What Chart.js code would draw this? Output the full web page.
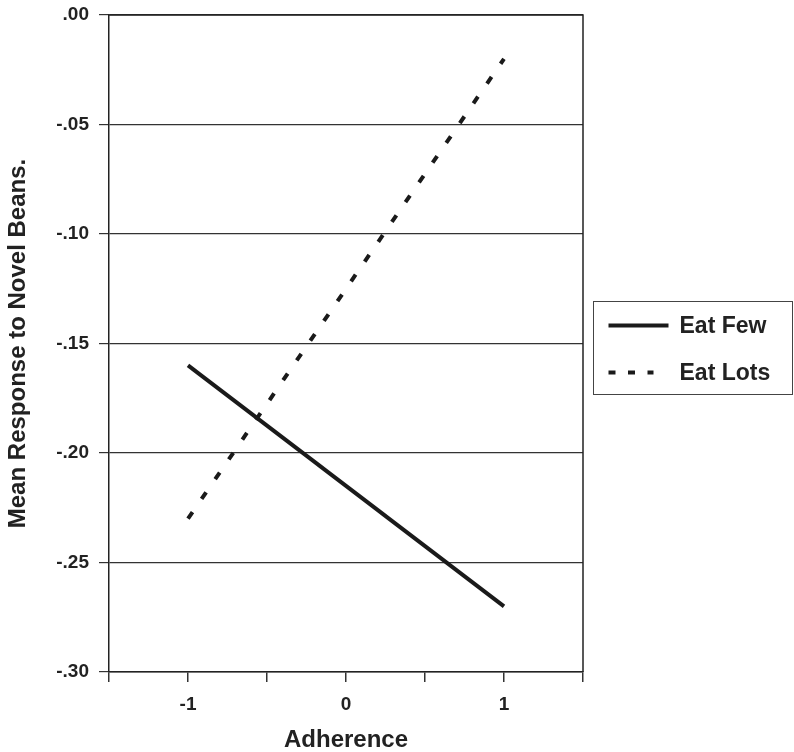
<!DOCTYPE html>
<html><head><meta charset="utf-8">
<script src="https://cdn.jsdelivr.net/npm/chart.js@4"></script>
<style>html,body{margin:0;padding:0;background:#fff}#wrap{width:794px;height:752px}</style>
</head><body><div id="wrap"><canvas id="c" width="794" height="752"></canvas></div>
<script>
const xValues = [-1, 1];
const eatFew = [-0.16, -0.27];
const eatLots = [-0.23, -0.02];
const seriesNames = ['Eat Few', 'Eat Lots'];
const xTickLabels = ['-1', '0', '1'];
const yTickLabels = ['.00', '-.05', '-.10', '-.15', '-.20', '-.25', '-.30'];

const FONT = "'Liberation Sans', Arial, sans-serif";

const frame = {
  id: 'frame',
  afterDraw(chart) {
    const {ctx, chartArea: a} = chart;
    ctx.save();
    ctx.strokeStyle = '#222';
    ctx.lineWidth = 1.5;
    ctx.beginPath();
    ctx.moveTo(a.left, a.top); ctx.lineTo(a.right, a.top); ctx.lineTo(a.right, a.bottom);
    ctx.stroke();
    // legend box
    const bx = 593.5, by = 301.5, bw = 199, bh = 93;
    ctx.strokeStyle = '#444'; ctx.lineWidth = 1;
    ctx.strokeRect(bx, by, bw, bh);
    const ds = chart.data.datasets;
    const rows = [by + 24, by + 71];
    ctx.font = "bold 23px " + FONT;
    ctx.fillStyle = '#222';
    ctx.textBaseline = 'middle';
    ds.forEach((d, i) => {
      ctx.strokeStyle = d.borderColor; ctx.lineWidth = 4;
      ctx.setLineDash(i === 1 ? [7, 12.5] : []);
      ctx.beginPath(); ctx.moveTo(bx + 15, rows[i]); ctx.lineTo(bx + (i === 1 ? 60 : 75), rows[i]); ctx.stroke();
      ctx.setLineDash([]);
      ctx.fillText(d.label, bx + 86, rows[i] + 1);
    });
    ctx.restore();
  }
};

new Chart(document.getElementById('c'), {
  type: 'scatter',
  data: {
    datasets: [
      { label: seriesNames[0], data: xValues.map((x, i) => ({x, y: eatFew[i]})), showLine: true,
        borderColor: '#1a1a1a', borderWidth: 4, pointRadius: 0, borderCapStyle: 'butt' },
      { label: seriesNames[1], data: xValues.map((x, i) => ({x, y: eatLots[i]})), showLine: true,
        borderColor: '#1a1a1a', borderWidth: 4, pointRadius: 0, borderDash: [8, 16], borderCapStyle: 'butt' }
    ]
  },
  options: {
    responsive: false, animation: false, devicePixelRatio: 1,
    layout: { padding: { left: 0, right: 211, top: 15, bottom: 0 } },
    plugins: { legend: { display: false }, tooltip: { enabled: false } },
    scales: {
      x: {
        type: 'linear', min: -1.5, max: 1.5,
        afterBuildTicks(s) { s.ticks = [-1.5, -1, -0.5, 0, 0.5, 1, 1.5].map(v => ({value: v})); },
        afterFit(s) { s.height = 80; s.paddingLeft = 0; s.paddingRight = 0; },
        ticks: { autoSkip: false, maxRotation: 0, padding: 11, color: '#222',
          font: { family: FONT, size: 19, weight: 'bold' },
          callback: (v) => { const i = [-1, 0, 1].indexOf(v); return i >= 0 ? xTickLabels[i] : ''; } },
        grid: { drawOnChartArea: false, tickLength: 10, color: '#333', lineWidth: 1.5 },
        border: { color: '#222', width: 1.5 },
        title: { display: true, text: 'Adherence', color: '#222', padding: { top: 0, bottom: 0 },
          font: { family: FONT, size: 24, weight: 'bold', lineHeight: 1 } }
      },
      y: {
        type: 'linear', min: -0.30, max: 0,
        afterBuildTicks(s) { s.ticks = [0, -0.05, -0.10, -0.15, -0.20, -0.25, -0.30].map(v => ({value: v})); },
        afterFit(s) { s.width = 109; s.paddingTop = 0; s.paddingBottom = 0; },
        ticks: { autoSkip: false, padding: 10, color: '#222',
          font: { family: FONT, size: 19, weight: 'bold' },
          callback: (v) => { const i = [0, -0.05, -0.10, -0.15, -0.20, -0.25, -0.30].findIndex(t => Math.abs(t - v) < 1e-6); return i >= 0 ? yTickLabels[i] : ''; } },
        grid: { tickLength: 10, color: '#333', lineWidth: 1.2 },
        border: { color: '#222', width: 1.5 },
        title: { display: true, text: 'Mean Response to Novel Beans.', color: '#222', padding: { top: 6, bottom: 0 },
          font: { family: FONT, size: 24, weight: 'bold', lineHeight: 1 } }
      }
    }
  },
  plugins: [frame]
});
</script></body></html>
